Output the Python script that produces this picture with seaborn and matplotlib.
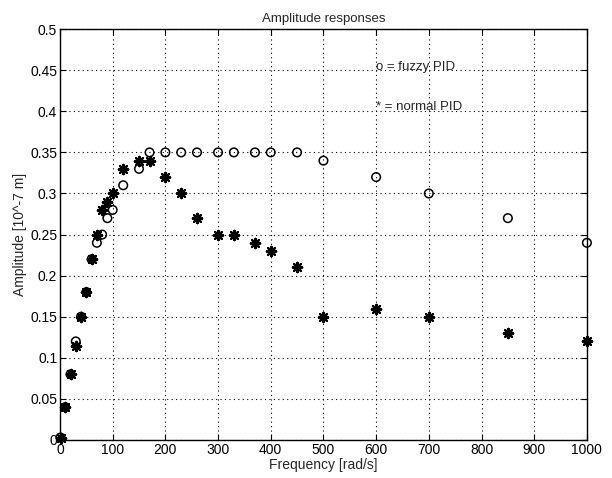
import pandas as pd
import matplotlib
matplotlib.use("Agg")
import matplotlib.pyplot as plt
import seaborn as sns

# Frequencies shared by both controllers
freq = [1, 10, 20, 30, 40, 50, 60, 70, 80, 90, 100, 120, 150, 170, 200, 230,
        260, 300, 330, 370, 400, 450, 500, 600, 700, 850, 1000]
fuzzy_amp = [0.003, 0.04, 0.08, 0.12, 0.15, 0.18, 0.22, 0.24, 0.25, 0.27, 0.28,
             0.31, 0.33, 0.35, 0.35, 0.35, 0.35, 0.35, 0.35, 0.35, 0.35, 0.35,
             0.34, 0.32, 0.30, 0.27, 0.24]
normal_amp = [0.003, 0.04, 0.08, 0.115, 0.15, 0.18, 0.22, 0.25, 0.28, 0.29, 0.30,
              0.33, 0.34, 0.34, 0.32, 0.30, 0.27, 0.25, 0.25, 0.24, 0.23, 0.21,
              0.15, 0.16, 0.15, 0.13, 0.12]
x_ticks = list(range(0, 1001, 100))
y_ticks = [0, 0.05, 0.1, 0.15, 0.2, 0.25, 0.3, 0.35, 0.4, 0.45, 0.5]
y_labels = ["0", "0.05", "0.1", "0.15", "0.2", "0.25", "0.3",
            "0.35", "0.4", "0.45", "0.5"]


def main():
    df = pd.DataFrame({"freq": freq, "fuzzy": fuzzy_amp, "normal": normal_amp})

    sns.set_style("ticks")
    plt.rcParams["font.family"] = ["Liberation Sans", "DejaVu Sans"]

    fig = plt.figure(figsize=(6.12, 4.78), dpi=100)
    ax = fig.add_axes([0.098, 0.0795, 0.861, 0.8595])

    # fuzzy PID: open circles
    sns.scatterplot(data=df, x="freq", y="fuzzy", ax=ax, marker="o", s=38,
                    facecolor="none", edgecolor="black", linewidth=1.1,
                    clip_on=False, zorder=3)
    # normal PID: asterisks
    sns.scatterplot(data=df, x="freq", y="normal", ax=ax, marker=(8, 2, 0), s=45,
                    color="black", edgecolor="black", linewidth=1.6,
                    clip_on=False, zorder=4)

    ax.set_xlim(0, 1000)
    ax.set_ylim(0, 0.5)
    ax.set_xticks(x_ticks)
    ax.set_yticks(y_ticks)
    ax.set_yticklabels(y_labels)
    ax.grid(True, linestyle=(0, (1, 3)), color="black", linewidth=0.8)
    ax.tick_params(direction="in", top=True, right=True, length=4,
                   labelsize=10, colors="black", pad=2)
    for sp in ax.spines.values():
        sp.set_color("black")
        sp.set_linewidth(1.0)

    ax.set_title("Amplitude responses", fontsize=9.5, pad=5)
    ax.set_xlabel("Frequency [rad/s]", fontsize=10, labelpad=1)
    ax.set_ylabel("Amplitude [10^-7 m]", fontsize=10, labelpad=2)

    ax.text(600, 0.454, "o = fuzzy PID", fontsize=9.5, va="center", ha="left")
    ax.text(600, 0.405, "* = normal PID", fontsize=9.5, va="center", ha="left")

    fig.savefig("out.png", dpi=100)
    plt.close(fig)


if __name__ == "__main__":
    main()
